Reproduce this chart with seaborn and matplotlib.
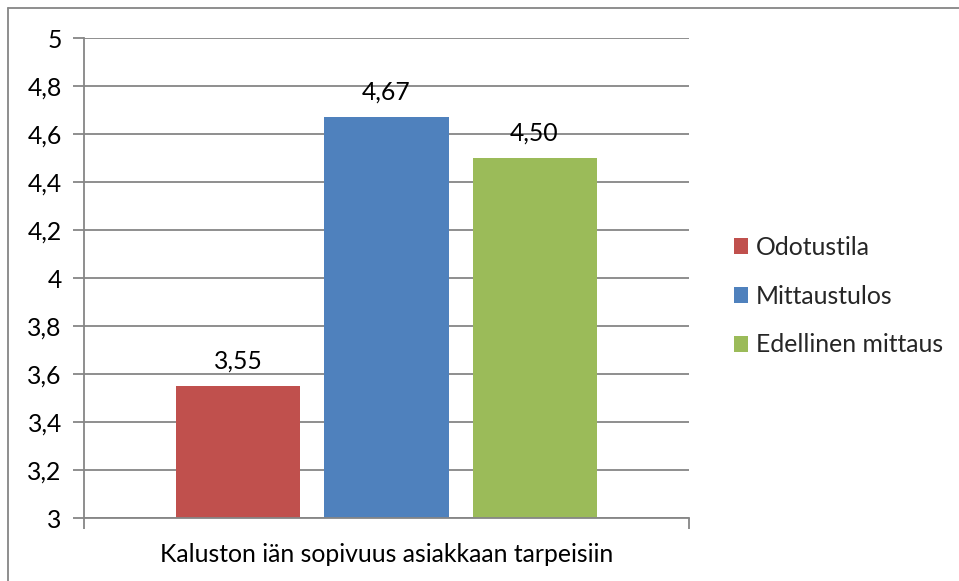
import matplotlib
matplotlib.use("Agg")
import matplotlib.pyplot as plt
import seaborn as sns
import pandas as pd
from matplotlib.lines import Line2D

category = ["Kaluston iän sopivuus asiakkaan tarpeisiin"]
series = ["Odotustila", "Mittaustulos", "Edellinen mittaus"]
values = [3.55, 4.67, 4.50]
colors = ["#C0504D", "#4F81BD", "#9BBB59"]
yticks = [3, 3.2, 3.4, 3.6, 3.8, 4, 4.2, 4.4, 4.6, 4.8, 5]

df = pd.DataFrame({"cat": category * len(series), "series": series, "value": values})

sns.set_theme(style="white")
plt.rcParams['font.family'] = ['Lato', 'DejaVu Sans']
FS = 17.8

fig = plt.figure(figsize=(9.59, 5.81), dpi=100)
ax = fig.add_axes([84/959, 1-518/581, 605/959, 480/581])

sns.barplot(data=df, x="cat", y="value", hue="series", hue_order=series,
            palette=colors, width=0.734, gap=0.162, ax=ax, legend=True,
            saturation=1, errorbar=None, linewidth=0)

ax.set_ylim(3, 5)
ax.set_xlim(-0.5, 0.5)
ax.set_yticks(yticks)
def fmt(v):
    s = f"{v:.1f}".rstrip("0").rstrip(".")
    return s.replace(".", ",")
ax.set_yticklabels([fmt(v) for v in yticks], fontsize=FS)
ax.set_xticks([0])
ax.set_xticklabels(category, fontsize=FS)
ax.set_xlabel("")
ax.set_ylabel("")
ax.yaxis.grid(True, color="#868686", linewidth=1.3)
ax.set_axisbelow(True)
for s in ["top", "right"]:
    ax.spines[s].set_visible(False)
for s in ["left", "bottom"]:
    ax.spines[s].set_color("#868686")
    ax.spines[s].set_linewidth(1.3)
ax.tick_params(axis="y", left=True, length=8, color="#868686", width=1.3, pad=8, labelcolor="black")
ax.tick_params(axis="x", bottom=False, pad=12, labelcolor="black")
ax.set_xticks([-0.5, 0.5], minor=True)
ax.tick_params(axis="x", which="minor", bottom=True, length=8, color="#868686", width=1.3)

for cont in ax.containers:
    for bar in cont:
        h = bar.get_height()
        ax.annotate(f"{h:.2f}".replace(".", ","), (bar.get_x() + bar.get_width()/2, h),
                    xytext=(0, 10), textcoords="offset points", ha="center", va="bottom",
                    fontsize=FS, color="black")

ax.legend(loc="center left", bbox_to_anchor=(1.037, 0.4625), frameon=False, fontsize=FS,
          handlelength=0.6, handleheight=0.6, handletextpad=0.3, labelspacing=1.05)

x0 = 8/959
y0 = 1 - 8/581
fig.add_artist(Line2D([x0, 1.0], [y0, y0], transform=fig.transFigure, color="#868686", linewidth=1.3))
fig.add_artist(Line2D([x0, x0], [0, y0], transform=fig.transFigure, color="#868686", linewidth=1.3))

fig.savefig("out.png", dpi=100)
